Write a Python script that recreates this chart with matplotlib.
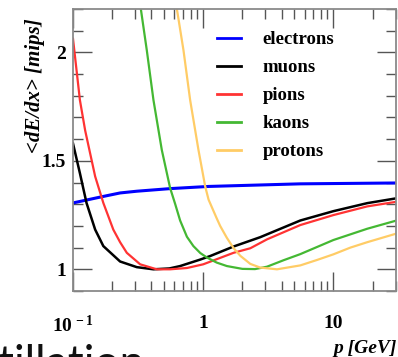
import numpy as np
import matplotlib
matplotlib.use('Agg')
import matplotlib.pyplot as plt
from matplotlib.ticker import FixedLocator, FixedFormatter, LogLocator, NullFormatter, MultipleLocator

plt.rcParams['mathtext.fontset'] = 'custom'
plt.rcParams['mathtext.rm'] = 'Liberation Serif:bold'
plt.rcParams['mathtext.bf'] = 'Liberation Serif:bold'
plt.rcParams['mathtext.it'] = 'Liberation Serif:bold:italic'

# values (p in GeV, <dE/dx> in mips)
p_e = [0.1, 0.171, 0.23, 0.309, 0.557, 1.1, 5.57, 31]
v_e = [1.306, 1.336, 1.352, 1.36, 1.372, 1.382, 1.394, 1.398]

p_mu = [0.1, 0.113, 0.127, 0.148, 0.171, 0.23, 0.309, 0.415, 0.55, 0.665, 0.95, 1.13,
        1.71, 2.74, 5.57, 10, 18.2, 31]
v_mu = [1.58, 1.443, 1.306, 1.183, 1.107, 1.036, 1.01, 1.0, 1.004, 1.015, 1.045, 1.061,
        1.105, 1.148, 1.225, 1.268, 1.305, 1.328]

p_pi = [0.1, 0.113, 0.124, 0.148, 0.171, 0.204, 0.23, 0.259, 0.328, 0.44, 0.557,
        0.75, 1.0, 1.13, 1.71, 2.3, 3.09, 5.57, 10, 18.2, 31]
v_pi = [2.063, 1.78, 1.64, 1.428, 1.306, 1.183, 1.125, 1.076, 1.023, 1.0, 1.0,
        1.006, 1.023, 1.035, 1.076, 1.097, 1.138, 1.204, 1.25, 1.29, 1.312]

p_k = [0.332, 0.369, 0.415, 0.481, 0.557, 0.61, 0.665, 0.75, 0.841, 0.95, 1.07, 1.27,
       1.52, 2.0, 2.5, 3.09, 4.15, 5.57, 10, 18.2, 31]
v_k = [2.2, 2.009, 1.78, 1.55, 1.375, 1.30, 1.225, 1.15, 1.107, 1.075, 1.054, 1.031,
       1.015, 1.002, 1.001, 1.012, 1.042, 1.07, 1.135, 1.187, 1.226]

p_p = [0.628, 0.706, 0.794, 0.92, 1.036, 1.1, 1.27, 1.35, 1.52, 1.71, 1.93, 2.3, 2.74,
       3.69, 5.57, 7.48, 10, 13.5, 18.2, 31]
v_p = [2.2, 2.009, 1.78, 1.55, 1.382, 1.321, 1.235, 1.2, 1.145, 1.098, 1.062, 1.025,
       1.008, 1.0, 1.018, 1.043, 1.069, 1.1, 1.125, 1.166]

labels = ['electrons', 'muons', 'pions', 'kaons', 'protons']
colors = ['#0000ff', '#000000', '#ff3333', '#44b833', '#ffcc66']

fig = plt.figure(figsize=(3.98, 3.57), dpi=100)
ax = fig.add_axes([73 / 398, 66 / 357, 322.5 / 398, 282 / 357])

series = [(p_e, v_e), (p_mu, v_mu), (p_pi, v_pi), (p_k, v_k), (p_p, v_p)]
widths = [2.2, 1.8, 1.6, 1.6, 1.6]
for (px, vy), lab, c, w in zip(series, labels, colors, widths):
    ax.plot(px, vy, color=c, lw=w, label=lab, solid_joinstyle='round')

ax.set_xscale('log')
ax.set_xlim(0.1, 30)
ax.set_ylim(0.9, 2.2)

ax.xaxis.set_major_locator(FixedLocator([0.1, 1, 10]))
ax.xaxis.set_major_formatter(FixedFormatter([r'$10^{\,-1}$', '1', '10']))
ax.xaxis.set_minor_locator(LogLocator(base=10, subs=np.arange(2, 10)))
ax.xaxis.set_minor_formatter(NullFormatter())
ax.yaxis.set_major_locator(FixedLocator([1, 1.5, 2]))
ax.yaxis.set_major_formatter(FixedFormatter(['1', '1.5', '2']))
ax.yaxis.set_minor_locator(MultipleLocator(0.1))

tick_col = '#555555'
for s in ax.spines.values():
    s.set_color('#8a8a8a')
    s.set_linewidth(1.3)
ax.tick_params(which='both', direction='in', top=True, right=True, color=tick_col, width=1.0)
ax.tick_params(which='major', length=14)
ax.tick_params(which='minor', length=7)
ax.tick_params(axis='y', which='major', pad=5)
ax.tick_params(axis='x', which='major', pad=17)
for t in ax.get_xticklabels() + ax.get_yticklabels():
    t.set_fontfamily('Liberation Serif')
    t.set_fontweight('bold')
    t.set_fontsize(14)

leg = ax.legend(loc='upper left', bbox_to_anchor=(208 / 398, 1 - 22 / 357),
                bbox_transform=fig.transFigure, frameon=False,
                prop={'family': 'Liberation Serif', 'weight': 'bold', 'size': 13.5},
                handlelength=1.25, handletextpad=1.15, labelspacing=0.58, borderpad=0)
for h in leg.get_lines():
    h.set_linewidth(2.0)

fig.text(35 / 398, 1 - 86 / 357, '<dE/dx> [mips]', rotation=90, ha='center', va='center',
         family='Liberation Serif', weight='bold', style='italic', fontsize=15)
fig.text(397 / 398, 4 / 357, 'p [GeV]', ha='right', va='baseline',
         family='Liberation Serif', weight='bold', style='italic', fontsize=14)
fig.text(-0.005, -20 / 357, 'tillation', ha='left', va='baseline',
         family='Lato', fontsize=32, color='#111111')

fig.savefig('out.png', dpi=100)
